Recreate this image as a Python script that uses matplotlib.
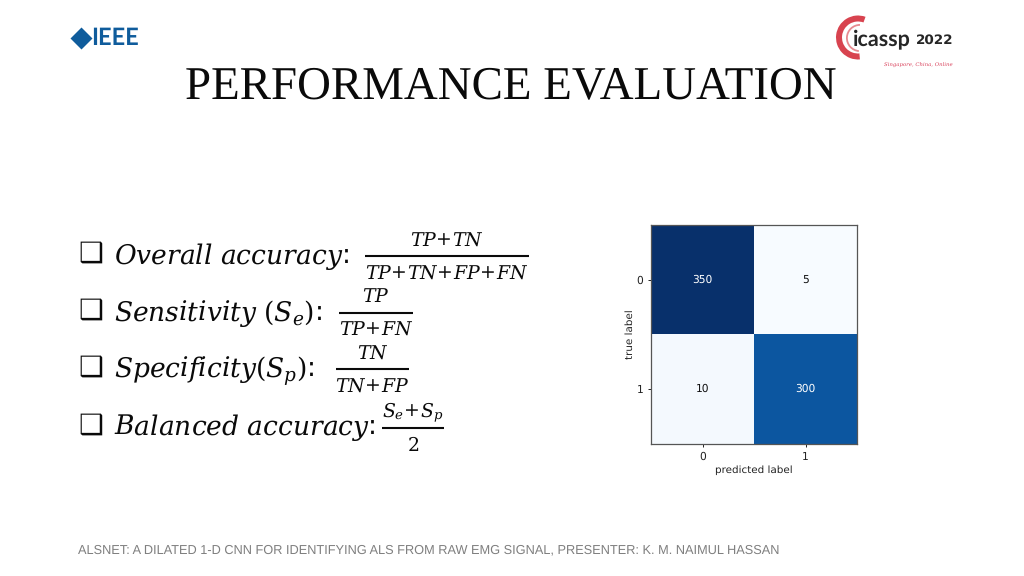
import matplotlib
matplotlib.use("Agg")
import matplotlib.pyplot as plt
from matplotlib.patches import Wedge
import numpy as np

plt.rcParams['mathtext.fontset'] = 'dejavuserif'
plt.rcParams['text.hinting'] = 'none'

matrix = np.array([[350, 5], [10, 300]])
class_labels = ['0', '1']
title = "PERFORMANCE EVALUATION"
footer = "ALSNET: A DILATED 1-D CNN FOR IDENTIFYING ALS FROM RAW EMG SIGNAL, PRESENTER: K. M. NAIMUL HASSAN"
terms = [r"$Overall\ accuracy$:", r"$Sensitivity\ (S_e)$:", r"$Specificity(S_p)$:", r"$Balanced\ accuracy$:"]
numerators = [r"$TP\!+\!TN$", r"$TP$", r"$TN$", r"$S_e\!+\!S_p$"]
denominators = [r"$TP\!+\!TN\!+\!FP\!+\!FN$", r"$TP\!+\!FN$", r"$TN\!+\!FP$", r"$2$"]

W, H = 1024, 576
fig = plt.figure(figsize=(W/100, H/100), dpi=100, facecolor='white')
bg = fig.add_axes([0, 0, 1, 1])
bg.set_xlim(0, W); bg.set_ylim(H, 0); bg.axis('off')

# title / footer
bg.text(510.5, 87, title, family='Liberation Serif', fontsize=33.75, ha='center', va='center', color='#0a0a0a')
bg.text(78, 549.5, footer, family='Liberation Sans', fontsize=9.21, ha='left', va='center', color='#7f7f7f')

# formula rows
row_y = [256.5, 313.5, 370.5, 428]
bar_x = [(365, 529), (339, 413), (336, 409), (382, 444)]
bar_y = [256, 312.5, 369, 428]
num_y = [241, 297, 354, 412]
den_y = [274, 330, 387, 446]
for i in range(4):
    bg.text(91, row_y[i] - 2.5, "\u2751", family='DejaVu Sans', fontsize=20, weight='bold', ha='center', va='center', color='#0a0a0a')
    bg.text(114, row_y[i], terms[i], fontsize=19.1, ha='left', va='center', color='#0a0a0a')
    bg.plot(bar_x[i], [bar_y[i]]*2, color='#0a0a0a', lw=1.5, solid_capstyle='butt')
    cx = sum(bar_x[i]) / 2
    bg.text(cx, num_y[i], numerators[i], fontsize=13.6, ha='center', va='center', color='#0a0a0a')
    bg.text(cx, den_y[i], denominators[i], fontsize=13.6, ha='center', va='center', color='#0a0a0a')

# IEEE logo
bg.plot([81], [38], marker='D', ms=11.5, color='#0f5c9c', mec='none')
bg.text(91, 38.5, "IEEE", family='Lato', weight='bold', fontsize=17, ha='left', va='center', color='#0f5c9c')

# ICASSP logo
bg.add_patch(Wedge((858, 37.5), 22, 85, 290, width=6, color='#d8434f', lw=0))
bg.add_patch(Wedge((860, 38), 14, 95, 270, width=1.8, color='#e78a90', lw=0))
bg.text(853, 40, "icassp", family='Lato', weight='bold', fontsize=15.5, ha='left', va='center', color='#262626')
bg.text(916, 40, "2022", family='DejaVu Sans', weight='bold', fontsize=9.7, ha='left', va='center', color='#262626')
bg.text(918.5, 65, "Singapore, China, Online", family='DejaVu Serif', style='italic', fontsize=3.9, ha='center', va='center', color='#d9405a')

# confusion matrix
ax = fig.add_axes([651/W, 1-444/H, (857-651)/W, (444-225)/H])
ax.imshow(matrix, cmap='Blues', aspect='auto', interpolation='nearest')
for r in range(2):
    for c in range(2):
        ax.text(c, r, str(matrix[r, c]), ha='center', va='center', fontsize=7.7,
                color='white' if matrix[r, c] > 175 else '#111111')
ax.set_xticks([0, 1], class_labels)
ax.set_yticks([0, 1], class_labels)
ax.tick_params(labelsize=7.7, length=2.5, width=0.7, pad=3, colors='#222222')
ax.set_xlabel("predicted label", fontsize=7.5, labelpad=2.5, color='#222222')
ax.set_ylabel("true label", fontsize=7.5, labelpad=1.5, color='#222222')
for s in ax.spines.values():
    s.set_linewidth(0.9); s.set_color('#555555')

fig.savefig("out.png", dpi=100)
